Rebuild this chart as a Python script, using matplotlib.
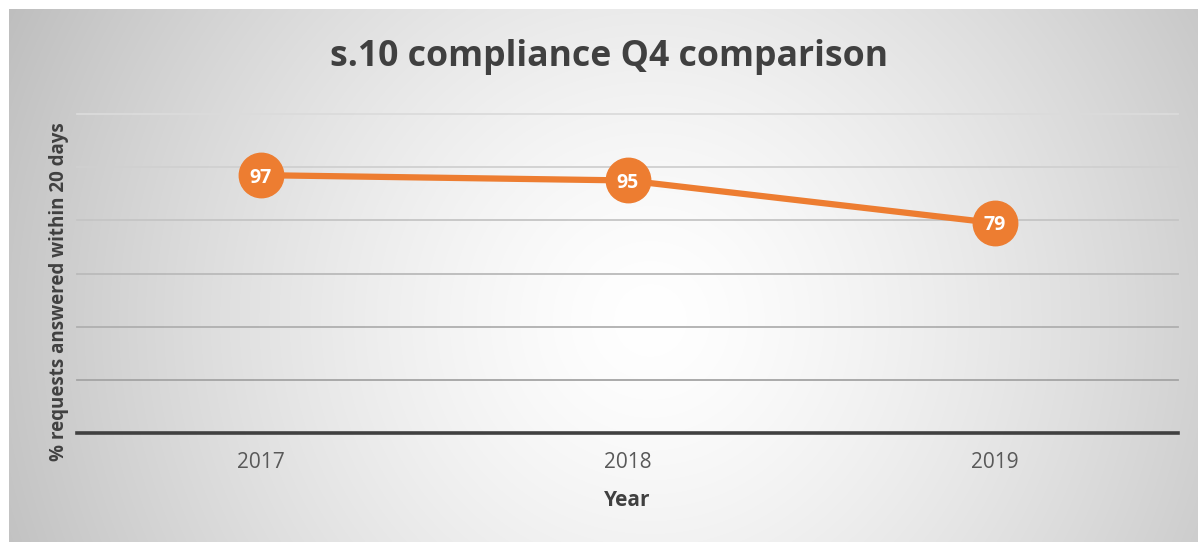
"""s.10 compliance Q4 comparison - line chart on a radial gradient panel."""
import matplotlib
matplotlib.use('Agg')
import matplotlib.pyplot as plt
import numpy as np

years = ['2017', '2018', '2019']
compliance = [97, 95, 79]
y_ticks = [0, 20, 40, 60, 80, 100, 120]

W, H, DPI = 1198, 542, 100
orange = '#ED7D31'
dark = '#404040'

plt.rcParams['font.family'] = ['Open Sans', 'DejaVu Sans']

fig = plt.figure(figsize=(W / DPI, H / DPI), dpi=DPI)
fig.patch.set_facecolor('white')

# background panel with radial gradient (pixel coords, top-left origin)
x0, y0, x1, y1 = 9, 9, 1198, 542
bg = fig.add_axes([x0 / W, 1 - y1 / H, (x1 - x0) / W, (y1 - y0) / H])
xx, yy = np.meshgrid(np.arange(x0, x1), np.arange(y0, y1))
dist = np.hypot(xx - 650, yy - 320) / 690.0
shade = (255 - 62 * np.clip(dist, 0, 1.1) ** 1.4) / 255.0
bg.imshow(np.dstack([shade] * 3), aspect='auto', interpolation='bilinear')
bg.set_axis_off()

# plot area
ax = fig.add_axes([77 / W, 109 / H, 1101 / W, 319 / H])
ax.set_facecolor('none')
x = np.arange(len(years))

for t in y_ticks[1:]:
    frac = t / y_ticks[-1]
    g = 0.60 + 0.26 * frac
    ax.axhline(t, color=(g, g, g), linewidth=1.3, zorder=1, clip_on=False)
ax.axhline(0, color=dark, linewidth=2.6, zorder=2, clip_on=False)

ax.plot(x, compliance, color=orange, linewidth=4.5, marker='o',
        markersize=32, markerfacecolor=orange, markeredgecolor=orange,
        zorder=3, solid_capstyle='round')
for xi, v in zip(x, compliance):
    ax.text(xi, v, str(v), color='white', fontsize=14, fontweight='bold',
            ha='center', va='center_baseline', zorder=4)

ax.set_xlim(-0.5, len(years) - 0.5)
ax.set_ylim(y_ticks[0], y_ticks[-1])
ax.set_xticks(x)
ax.set_xticklabels(years, fontsize=15, color='#595959')
ax.set_yticks([])
ax.tick_params(axis='x', length=0, pad=14)
for s in ax.spines.values():
    s.set_visible(False)

fig.text(609 / W, 1 - 57 / H, 's.10 compliance Q4 comparison', fontsize=25.7,
         fontweight='bold', color=dark, ha='center', va='center')
fig.text(627 / W, 1 - 501 / H, 'Year', fontsize=15, fontweight='bold',
         color=dark, ha='center', va='center')
fig.text(59 / W, 1 - 292 / H, '% requests answered within 20 days',
         fontsize=13.5, fontweight='bold', color=dark, ha='center',
         va='center', rotation=90)

fig.savefig('out.png', dpi=DPI)
